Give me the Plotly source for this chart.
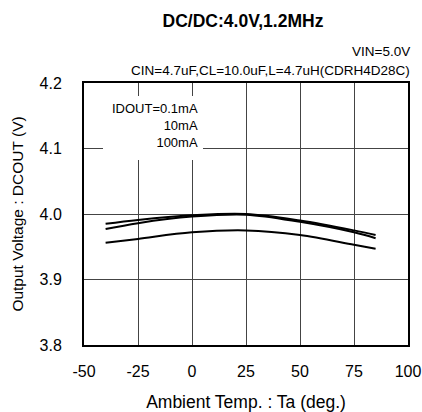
import plotly.graph_objects as go

temps = [-40, -25, 0, 25, 50, 75, 85]
v_01mA = [3.985, 3.991, 3.998, 4.000, 3.990, 3.975, 3.968]
v_10mA = [3.977, 3.986, 3.996, 3.999, 3.988, 3.972, 3.963]
v_100mA = [3.956, 3.962, 3.972, 3.975, 3.968, 3.953, 3.947]
series_names = ["IDOUT=0.1mA", "10mA", "100mA"]
x_ticks = [-50, -25, 0, 25, 50, 75, 100]
x_ticktext = ["-50", "-25", "0", "25", "50", "75", "100"]
y_ticks = [3.8, 3.9, 4.0, 4.1, 4.2]
y_ticktext = ["3.8", "3.9", "4.0", "4.1", "4.2"]

fig = go.Figure()
for name, vals in zip(series_names, [v_01mA, v_10mA, v_100mA]):
    fig.add_trace(go.Scatter(x=temps, y=vals, mode="lines", name=name,
                             line=dict(color="black", width=2, shape="spline")))

font = "Liberation Sans, Arial, sans-serif"
fig.update_layout(
    width=422, height=412,
    margin=dict(l=84, r=14, t=83, b=67),
    paper_bgcolor="white", plot_bgcolor="white",
    showlegend=False,
    font=dict(family=font, color="black", size=14),
    title=dict(text="<b>DC/DC:4.0V,1.2MHz</b>", x=243/422, xanchor="center",
               y=1 - 21/412, yanchor="middle", font=dict(size=17.5)),
)
fig.update_xaxes(range=[-50, 100], tickvals=x_ticks, ticktext=x_ticktext,
                 showgrid=True, gridcolor="#444444", gridwidth=1.2,
                 showline=True, linecolor="black", linewidth=2, mirror=True,
                 ticks="", zeroline=False, ticklabelstandoff=11, automargin=False,
                 title=dict(text="Ambient Temp. : Ta (deg.)", font=dict(size=17.5), standoff=26),
                 tickfont=dict(size=16))
fig.update_yaxes(range=[3.8, 4.2], tickvals=y_ticks, ticktext=y_ticktext,
                 showgrid=True, gridcolor="#444444", gridwidth=1.2,
                 showline=True, linecolor="black", linewidth=2, mirror=True,
                 ticks="", zeroline=False, ticklabelstandoff=17, automargin=False,
                 title=dict(text="Output Voltage : DCOUT (V)", font=dict(size=15.5), standoff=12),
                 tickfont=dict(size=16))

# white box behind the labels
fig.add_shape(type="rect", xref="paper", yref="paper",
              x0=(103-84)/324, x1=(203-84)/324, y0=(345-160)/262, y1=(345-96)/262,
              fillcolor="white", line=dict(width=0), layer="above")

fig.add_annotation(text="<br>".join(series_names), xref="paper", yref="paper",
                   x=(200-84)/324, y=(345-125)/262, xanchor="right", yanchor="middle",
                   align="right", showarrow=False, font=dict(size=13))

fig.add_annotation(text="VIN=5.0V", xref="paper", yref="paper", x=(412-84)/324, y=(345-51)/262,
                   xanchor="right", yanchor="middle", showarrow=False, font=dict(size=13.5))
fig.add_annotation(text="CIN=4.7uF,CL=10.0uF,L=4.7uH(CDRH4D28C)", xref="paper", yref="paper",
                   x=(412-84)/324, y=(345-71)/262, xanchor="right", yanchor="middle",
                   showarrow=False, font=dict(size=13.5))

fig.write_html("out.html", config={"displayModeBar": False},
               post_script="document.body.style.margin='0';document.body.style.overflow='hidden';")
